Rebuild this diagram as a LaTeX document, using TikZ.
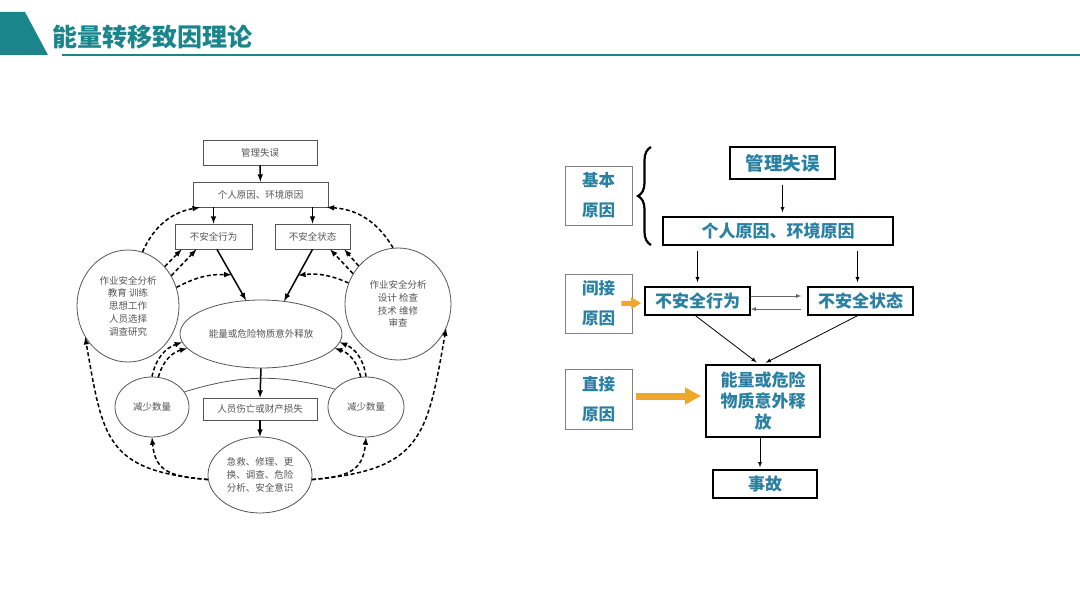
\documentclass[tikz,border=0pt]{standalone}
\usepackage{fontspec}
\setmainfont{Noto Sans CJK SC}
\usepackage{tikz}
\usetikzlibrary{arrows,arrows.meta,shapes.geometric,decorations.pathreplacing}
\definecolor{titleteal}{RGB}{26,134,140}
\definecolor{textteal}{RGB}{41,128,160}
\definecolor{arrowyellow}{RGB}{236,168,40}
\definecolor{leftgray}{RGB}{85,85,85}

\begin{document}
\begin{tikzpicture}[x=1pt,y=1pt,
    lbox/.style={draw=leftgray, line width=0.8pt, text=leftgray, font=\fontsize{9.5}{12.7}\selectfont, inner sep=0pt},
    lell/.style={lbox, ellipse, align=center},
    larr/.style={-latex, line width=1.5pt},
    ldash/.style={-latex, line width=1.5pt, dash pattern=on 4pt off 2.5pt},
    rbox/.style={draw=black, line width=1.4pt, text=textteal, font=\fontsize{17}{21}\bfseries\selectfont, inner sep=0pt, align=center},
    rlab/.style={draw=gray, line width=0.8pt, text=textteal, font=\fontsize{16.5}{30}\bfseries\selectfont, inner sep=0pt, align=center, minimum width=67, minimum height=59},
    rarr/.style={-latex, line width=0.8pt},
    yarr/.style={arrowyellow, line width=7pt, -{Triangle[length=16pt,width=16pt]}}]
      \fill[white] (0,0) rectangle (1080,-607);
      \useasboundingbox (0,0) rectangle (1080,-607);
      % header
      \fill[titleteal] (0,-12) -- (25,-12) -- (48,-55) -- (0,-55) -- cycle;
      \draw[titleteal, line width=2pt] (62,-55) -- (1080,-55);
      \node[anchor=west, inner sep=0pt, text=titleteal, font=\fontsize{25}{25}\bfseries\selectfont] (title) at (52,-37) {能量转移致因理论};

      % left diagram
      \node[lbox, minimum width=114, minimum height=25] (l_mg) at (260,-152.5) {管理失误};
      \node[lbox, minimum width=135, minimum height=25] (l_pc) at (260.5,-194.5) {个人原因、环境原因};
      \node[lbox, minimum width=77, minimum height=25] (l_act) at (213.5,-236.5) {不安全行为};
      \node[lbox, minimum width=75, minimum height=25] (l_state) at (312.5,-236.5) {不安全状态};
      \node[lell, minimum width=102, minimum height=112] (l_cl) at (128,-306) {作业安全分析\\教育\ 训练\\思想工作\\人员选择\\调查研究};
      \node[lell, minimum width=106, minimum height=112] (l_cr) at (398,-304) {作业安全分析\\设计\ 检查\\技术\ 维修\\审查};
      \node[lell, minimum width=162, minimum height=68] (l_rel) at (261,-334) {能量或危险物质意外释放};
      \node[lell, minimum width=74, minimum height=60] (l_sl) at (152,-407) {减少数量};
      \node[lell, minimum width=76, minimum height=60] (l_sr) at (366,-407) {减少数量};
      \node[lbox, minimum width=114, minimum height=22] (l_loss) at (260,-409) {人员伤亡或财产损失};
      \node[lell, minimum width=104, minimum height=76] (l_aid) at (260,-475) {急救、修理、更\\换、调查、危险\\分析、安全意识};
      \draw[leftgray, line width=0.8pt] (l_sl.25) to[bend left=16] (l_sr.150);

      \draw[larr] (l_mg) -- (l_pc);
      \draw[larr] (l_act.north |- l_pc.south) -- (l_act.north);
      \draw[larr] (l_state.north |- l_pc.south) -- (l_state.north);
      \draw[larr] (l_act.-75) -- coordinate (m_l) (l_rel.114);
      \draw[larr] (l_state.south) -- coordinate (m_r) (l_rel.55);
      \draw[larr] (l_rel.south) -- (l_loss.north);
      \draw[larr] (l_loss) -- (l_aid);

      \draw[ldash] (l_cl.75) to[bend left=28] (l_pc.192);
      \draw[ldash] (l_cr.95) to[bend right=28] (l_pc.-11);
      \draw[ldash] (l_cl.47) -- (l_act.202);
      \draw[ldash] (l_cl.35) -- (l_act.217);
      \draw[ldash] (l_cl.21) to[bend left=15] (m_l);
      \draw[ldash] (l_cr.136) -- (l_state.-22);
      \draw[ldash] (l_cr.146) -- (l_state.-36);
      \draw[ldash] (l_cr.157) to[bend right=15] (m_r);
      \draw[ldash] (l_sl.90) to[bend left=30] (l_rel.186);
      \draw[ldash] (l_sl.78) to[bend left=30] (l_rel.191);
      \draw[ldash] (l_sr.90) to[bend right=30] (l_rel.-6);
      \draw[ldash] (l_sr.100) to[bend right=30] (l_rel.-11);
      \draw[ldash] (l_aid.185) to[out=175, in=-85, looseness=1.3] (l_sl.south);
      \draw[ldash] (l_aid.185) to[out=175, in=-80, looseness=1.4] (l_cl.216);
      \draw[ldash] (l_aid.-5) to[out=5, in=-95, looseness=1.3] (l_sr.south);
      \draw[ldash] (l_aid.-5) to[out=5, in=-100, looseness=1.4] (l_cr.-27);

      % right diagram
      \node[rlab] (r_base) at (598.5,-195.5) {基本\\原因};
      \node[rlab] (r_ind) at (598.5,-303.5) {间接\\原因};
      \node[rlab, minimum height=60] (r_dir) at (598.5,-399) {直接\\原因};
      \draw[decorate, decoration={brace, amplitude=13pt}, line width=2.2pt] (651,-245) -- (651,-147);
      \node[rbox, minimum width=105, minimum height=32, font=\fontsize{18.5}{21}\bfseries\selectfont] (r_mg) at (782.5,-163) {管理失误};
      \node[rbox, minimum width=230, minimum height=28] (r_pc) at (778,-231) {个人原因、环境原因};
      \node[rbox, minimum width=105, minimum height=28] (r_act) at (697.5,-301) {不安全行为};
      \node[rbox, minimum width=105, minimum height=28] (r_state) at (860.5,-301) {不安全状态};
      \node[rbox, minimum width=114, minimum height=72, line width=1.8pt] (r_rel) at (763,-401) {能量或危险\\物质意外释\\放};
      \node[rbox, minimum width=104, minimum height=28] (r_acc) at (765,-484) {事故};

      \draw[rarr, shorten <=5pt, shorten >=4pt] (r_mg.south) -- (r_mg.south |- r_pc.north);
      \draw[rarr, shorten <=5pt, shorten >=4pt] (r_act.north |- r_pc.south) -- (r_act.north);
      \draw[rarr, shorten <=5pt, shorten >=4pt] ([xshift=-3pt]r_state.north |- r_pc.south) -- ([xshift=-3pt]r_state.north);
      \draw[rarr, gray!80!black, shorten >=6pt] ([yshift=5pt]r_act.east) -- ([yshift=5pt]r_state.west);
      \draw[rarr, gray!80!black, shorten <=6pt] ([yshift=-8pt]r_state.west) -- ([yshift=-8pt]r_act.east);
      \draw[rarr, shorten >=3pt] ([xshift=-2pt]r_act.south) -- ([xshift=-4pt]r_rel.north);
      \draw[rarr, shorten >=3pt] ([xshift=-3pt]r_state.south) -- ([xshift=0pt]r_rel.north);
      \draw[rarr, shorten >=2pt] ([xshift=-3pt]r_rel.south) -- ([xshift=-3pt]r_rel.south |- r_acc.north);
      \draw[yarr, line width=5pt, -{Triangle[length=10pt,width=11pt]}, shorten >=3pt] ([xshift=-11pt,yshift=0pt]r_ind.east) -- ([yshift=-2pt]r_act.west);
      \draw[yarr, shorten <=4pt, shorten >=4pt] ([yshift=3pt]r_dir.east) -- ([yshift=5pt]r_rel.west);
\end{tikzpicture}
\end{document}
